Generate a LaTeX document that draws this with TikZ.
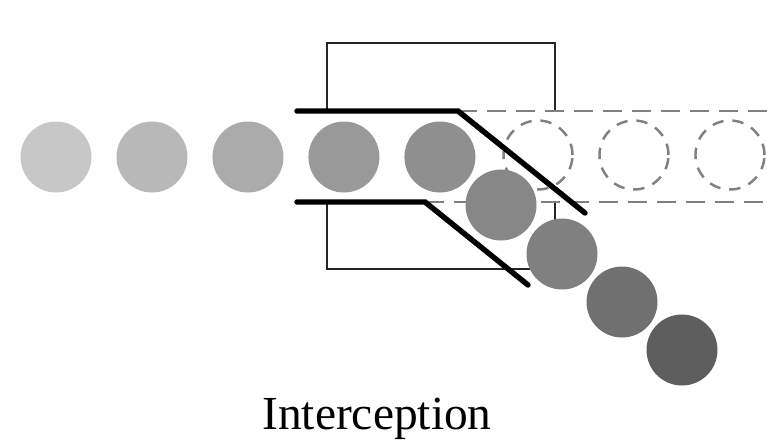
\documentclass[tikz,border=0pt]{standalone}
\usepackage{fontspec}
\setmainfont{Liberation Serif}
\usepackage{tikz}
\usetikzlibrary{shapes.geometric}
\tikzstyle{ball} = [circle, minimum size=1.42cm, inner sep=0pt, draw=none]
\tikzstyle{ghost} = [circle, minimum size=1.38cm, inner sep=0pt, draw=black!50, line width=1.4pt, dash pattern=on 6.5pt off 5pt]
\tikzstyle{track} = [draw=black!50, line width=1.4pt, dash pattern=on 11pt off 5.5pt]
\tikzstyle{frame} = [draw=black!85, line width=1.6pt]
\tikzstyle{wall} = [draw=black, line width=3.1pt, line cap=round]

\begin{document}
\begin{tikzpicture}[x=0.02cm, y=-0.02cm, node distance=1.92cm]
        \useasboundingbox (0,0) rectangle (767,441);
        % gate frame, open where the stream passes
        \draw [frame] (327,111) -- (327,43) -- (555,43) -- (555,111);
        \draw [frame] (327,202) -- (327,269) -- (555,269) -- (555,202);
        % old path straight on
        \coordinate (tu) at (458,111);
        \coordinate (bu) at (425,202);
        \draw [track] (tu) -- (767,111);
        \draw [track] (bu) -- (767,202);
        \node (g1) [ghost] at (538,155) {};
        \node (g2) [ghost, right of=g1] {};
        \node (g3) [ghost, right of=g2] {};
        % incoming stream
        \node (b1) [ball, fill=black!22] at (56,157) {};
        \node (b2) [ball, fill=black!28, right of=b1] {};
        \node (b3) [ball, fill=black!33, right of=b2] {};
        \node (b4) [ball, fill=black!40, right of=b3] {};
        \node (b5) [ball, fill=black!44, right of=b4] {};
        % deflected stream
        \node (b6) [ball, fill=black!47] at (501,205) {};
        \node (b7) [ball, fill=black!50] at (562,254) {};
        \node (b8) [ball, fill=black!56] at (622,302) {};
        \node (b9) [ball, fill=black!63] at (682,350) {};
        % guide walls
        \draw [wall] (297,111) -- (tu) -- (585,213);
        \draw [wall] (297,202) -- (bu) -- (528,285);
        \node (lbl) at (377,419) {\fontsize{27}{30}\selectfont Interception};
\end{tikzpicture}
\end{document}
